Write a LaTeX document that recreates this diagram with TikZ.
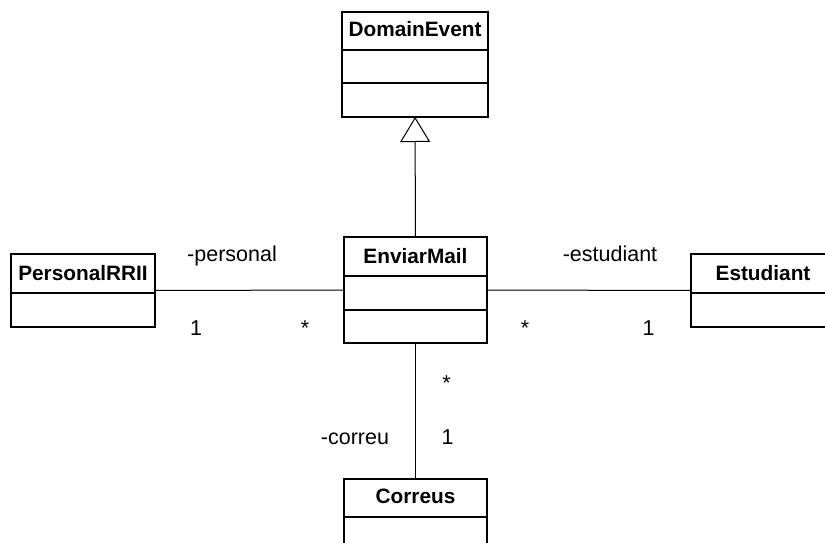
\documentclass[tikz,border=0pt]{standalone}
\usepackage{fontspec}
\setmainfont{Liberation Sans}
\usetikzlibrary{calc,arrows.meta}

\tikzset{
  classbox/.style={draw, line width=1.6pt, outer sep=0pt, inner sep=0pt},
  classtitle/.style={anchor=base, inner sep=0pt, font=\fontsize{20.8}{21}\selectfont\bfseries},
  rolelabel/.style={anchor=base, inner sep=0pt, font=\fontsize{21.5}{22}\selectfont},
  compartment/.style={line width=1.6pt},
  assoc/.style={line width=1pt},
  generalization/.style={line width=1pt, -{Triangle[open, length=25pt, width=30pt, line width=1pt]}},
}

\begin{document}
\begin{tikzpicture}[x=1pt, y=-1pt]
  \useasboundingbox (0,0) rectangle (825,543);
  \clip (0,0) rectangle (825,543);

  % class boxes
  \node[classbox, minimum width=146pt, minimum height=105pt] (domain) at (415,64.5) {};
  \node[classbox, minimum width=143pt, minimum height=106pt] (enviar) at (415.5,290) {};
  \node[classbox, minimum width=144pt, minimum height=73pt] (personal) at (83,290.5) {};
  \node[classbox, minimum width=144pt, minimum height=73pt] (estudiant) at (763,290.5) {};
  \node[classbox, minimum width=143pt, minimum height=72pt] (correus) at (415.5,515) {};

  % compartment separators
  \draw[compartment] ($(domain.north west)+(0,38)$) -- ($(domain.north east)+(0,38)$);
  \draw[compartment] ($(domain.north west)+(0,71)$) -- ($(domain.north east)+(0,71)$);
  \draw[compartment] ($(enviar.north west)+(0,39)$) -- ($(enviar.north east)+(0,39)$);
  \draw[compartment] ($(enviar.north west)+(0,73)$) -- ($(enviar.north east)+(0,73)$);
  \draw[compartment] ($(personal.north west)+(0,39)$) -- ($(personal.north east)+(0,39)$);
  \draw[compartment] ($(estudiant.north west)+(0,39)$) -- ($(estudiant.north east)+(0,39)$);
  \draw[compartment] ($(correus.north west)+(0,38)$) -- ($(correus.north east)+(0,38)$);

  % class names
  \node[classtitle] (domain-name) at (415,37) {DomainEvent};
  \node[classtitle] (enviar-name) at (415.5,263.5) {EnviarMail};
  \node[classtitle] (personal-name) at (83,280) {PersonalRRII};
  \node[classtitle] (estudiant-name) at (763,280) {Estudiant};
  \node[classtitle] (correus-name) at (415.5,503) {Correus};

  % relationships
  \draw[generalization] (enviar) -- (domain);
  \draw[assoc] (personal) -- (enviar);
  \draw[assoc] (enviar) -- (estudiant);
  \draw[assoc] (enviar) -- (correus);

  % roles and multiplicities
  \node[rolelabel] (role-personal) at (232,261) {-personal};
  \node[rolelabel] (mult-personal) at (196,335) {1};
  \node[rolelabel] (mult-enviar-l) at (305,335) {*};
  \node[rolelabel] (role-estudiant) at (610,261) {-estudiant};
  \node[rolelabel] (mult-enviar-r) at (525,335) {*};
  \node[rolelabel] (mult-estudiant) at (648.5,335) {1};
  \node[rolelabel] (mult-enviar-b) at (446.5,390) {*};
  \node[rolelabel] (role-correu) at (355,444) {-correu};
  \node[rolelabel] (mult-correus) at (447.5,444) {1};
\end{tikzpicture}
\end{document}
